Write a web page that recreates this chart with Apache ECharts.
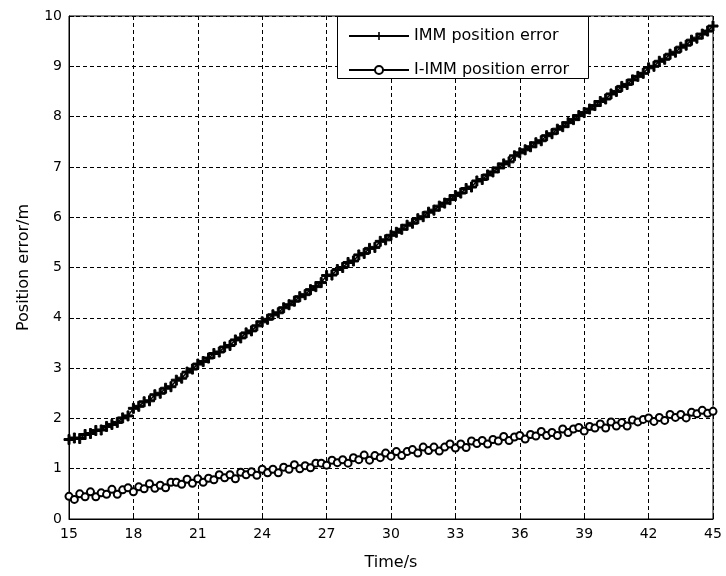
<!DOCTYPE html>
<html>
<head>
<meta charset="utf-8">
<script src="https://cdn.jsdelivr.net/npm/echarts@6/dist/echarts.min.js"></script>
<style>
html,body{margin:0;padding:0;background:#fff;}
#chart{width:726px;height:576px;}
</style>
</head>
<body>
<div id="chart"></div>
<script>
// Sampling grid (time in seconds)
var tStart = 15, tStep = 0.25;

// IMM position error (m)
var immError = [
1.58,1.61,1.60,1.68,1.70,1.76,1.77,1.84,1.88,1.92,2.01,2.05,
2.20,2.24,2.33,2.35,2.47,2.50,2.60,2.63,2.76,2.80,2.92,2.98,
3.08,3.13,3.20,3.29,3.32,3.42,3.45,3.56,3.60,3.70,3.74,3.84,
3.92,3.97,4.06,4.10,4.20,4.26,4.33,4.42,4.46,4.56,4.62,4.70,
4.84,4.85,4.96,5.00,5.10,5.13,5.25,5.28,5.38,5.40,5.52,5.55,
5.64,5.70,5.76,5.84,5.88,5.97,6.01,6.10,6.14,6.22,6.28,6.35,
6.43,6.48,6.57,6.60,6.72,6.75,6.84,6.90,6.98,7.06,7.10,7.22,
7.28,7.34,7.40,7.48,7.52,7.62,7.66,7.75,7.80,7.88,7.94,8.02,
8.08,8.15,8.22,8.30,8.35,8.45,8.50,8.60,8.64,8.73,8.80,8.86,
8.97,9.00,9.10,9.14,9.24,9.28,9.38,9.42,9.52,9.56,9.64,9.70,
9.80
];

// I-IMM position error (m)
var iimmError = [
0.45,0.39,0.50,0.44,0.54,0.44,0.52,0.49,0.59,0.49,0.58,0.62,
0.54,0.64,0.60,0.70,0.61,0.67,0.62,0.73,0.73,0.69,0.79,0.71,
0.80,0.73,0.81,0.78,0.88,0.82,0.88,0.80,0.93,0.88,0.94,0.87,
0.99,0.92,0.99,0.92,1.03,0.99,1.08,1.00,1.06,1.02,1.11,1.11,
1.07,1.17,1.12,1.18,1.11,1.22,1.18,1.27,1.17,1.26,1.22,1.31,
1.25,1.34,1.26,1.34,1.38,1.31,1.43,1.36,1.43,1.35,1.43,1.49,
1.41,1.49,1.42,1.55,1.50,1.56,1.49,1.58,1.55,1.64,1.56,1.63,
1.66,1.59,1.68,1.65,1.74,1.66,1.72,1.66,1.79,1.72,1.79,1.82,
1.75,1.84,1.81,1.89,1.81,1.93,1.85,1.92,1.85,1.97,1.93,1.98,
2.01,1.94,2.02,1.96,2.08,2.02,2.08,2.01,2.12,2.09,2.16,2.10,
2.14
];

var seriesNames = ['IMM position error', 'I-IMM position error'];
var xAxisName = 'Time/s';
var yAxisName = 'Position error/m';
var xTicks = {min: 15, max: 45, interval: 3};
var yTicks = {min: 0, max: 10, interval: 1};

function pairs(values) {
  return values.map(function (v, i) { return [tStart + i * tStep, v]; });
}

var FONT = 'DejaVu Sans, sans-serif';
var plusPath = 'path://M4,0H6V4H10V6H6V10H4V6H0V4H4Z';

var chart = echarts.init(document.getElementById('chart'), null, {renderer: 'canvas'});
chart.setOption({
  animation: false,
  backgroundColor: '#fff',
  grid: {left: 69, right: 13, top: 16, bottom: 55, show: true, borderColor: '#000', borderWidth: 1, backgroundColor: 'transparent'},
  xAxis: {
    type: 'value', min: xTicks.min, max: xTicks.max, interval: xTicks.interval,
    name: xAxisName, nameLocation: 'middle', nameGap: 36,
    nameTextStyle: {color: '#000', fontSize: 16, fontFamily: FONT},
    axisLine: {show: true, lineStyle: {color: '#000', width: 1}},
    axisTick: {show: true, inside: true, length: 5, lineStyle: {color: '#000'}},
    axisLabel: {color: '#000', fontSize: 14, fontFamily: FONT, margin: 8},
    splitLine: {show: true, lineStyle: {color: '#000', type: [4, 3], width: 1}}
  },
  yAxis: {
    type: 'value', min: yTicks.min, max: yTicks.max, interval: yTicks.interval,
    name: yAxisName, nameLocation: 'middle', nameGap: 37,
    nameTextStyle: {color: '#000', fontSize: 16, fontFamily: FONT},
    axisLine: {show: true, lineStyle: {color: '#000', width: 1}},
    axisTick: {show: true, inside: true, length: 5, lineStyle: {color: '#000'}},
    axisLabel: {color: '#000', fontSize: 14, fontFamily: FONT, margin: 7},
    splitLine: {show: true, lineStyle: {color: '#000', type: [4, 3], width: 1}}
  },
  legend: {
    orient: 'vertical', left: 348, top: 28, padding: 0,
    itemWidth: 60, itemHeight: 10, itemGap: 18,
    textStyle: {color: '#000', fontSize: 16, fontFamily: FONT},
    z: 20,
    data: [seriesNames[0], seriesNames[1]]
  },
  graphic: [{
    type: 'rect', left: 337, top: 16, z: 15,
    shape: {width: 251, height: 62},
    style: {fill: '#fff', stroke: '#000', lineWidth: 1}
  }],
  series: [
    {
      name: seriesNames[0], type: 'line', data: pairs(immError),
      symbol: plusPath, symbolSize: 10, showAllSymbol: true,
      lineStyle: {color: '#000', width: 1.5},
      itemStyle: {color: '#000', borderColor: '#000'},
      z: 3
    },
    {
      name: seriesNames[1], type: 'line', data: pairs(iimmError),
      symbol: 'emptyCircle', symbolSize: 7, showAllSymbol: true,
      lineStyle: {color: '#000', width: 1.2},
      itemStyle: {color: '#000', borderColor: '#000', borderWidth: 1},
      z: 3
    }
  ]
});
</script>
</body>
</html>
